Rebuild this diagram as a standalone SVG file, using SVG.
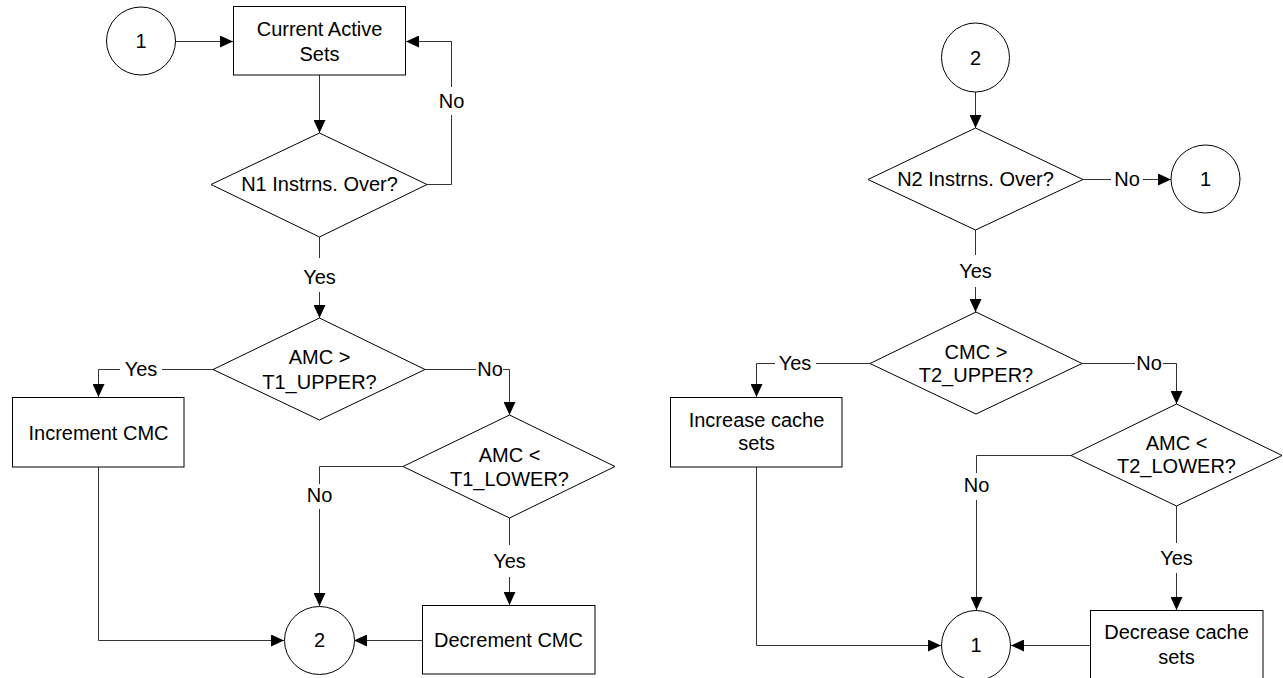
<svg xmlns="http://www.w3.org/2000/svg" width="1283" height="678" viewBox="0 0 1283 678">
<style>
.s{fill:#fff;stroke:#000;stroke-width:1}
.c{fill:none;stroke:#333;stroke-width:1}
.ca{fill:none;stroke:#333;stroke-width:1;marker-end:url(#ah)}
text{font-family:"Liberation Sans",Arial,sans-serif;font-size:20px;fill:#000;text-anchor:middle}
</style>
<defs>
<marker id="ah" markerUnits="userSpaceOnUse" markerWidth="13" markerHeight="12" refX="13" refY="6" orient="auto">
<path d="M0,0 L13,6 L0,12 z" fill="#000"/>
</marker>
</defs>
<rect width="1283" height="678" fill="#fff"/>

<g id="connectors">
<!-- left flow -->
<path class="ca" d="M176,41.5 H233"/>
<path class="ca" d="M319.5,75 V133"/>
<path class="c" d="M427,184.5 H451.5 V115"/>
<path class="ca" d="M451.5,87 V41.5 H406"/>
<path class="c" d="M319.5,237 V258"/>
<path class="ca" d="M319.5,292 V318"/>
<path class="c" d="M213,369.5 H162"/>
<path class="ca" d="M120,369.5 H98.5 V397"/>
<path class="c" d="M425,369.5 H476"/>
<path class="ca" d="M503,369.5 H509.5 V415"/>
<path class="c" d="M403,466.5 H319.5 V484"/>
<path class="ca" d="M319.5,509 V606"/>
<path class="c" d="M509.5,518 V545"/>
<path class="ca" d="M509.5,577 V605"/>
<path class="ca" d="M98.5,467 V640.5 H284"/>
<path class="ca" d="M422,640.5 H354"/>
<!-- right flow -->
<path class="ca" d="M975.5,92 V128"/>
<path class="c" d="M1083,179.5 H1111"/>
<path class="ca" d="M1143,179.5 H1171"/>
<path class="c" d="M975.5,230 V255"/>
<path class="ca" d="M975.5,287 V312"/>
<path class="c" d="M870,363.5 H816"/>
<path class="ca" d="M775,363.5 H756.5 V397"/>
<path class="c" d="M1082,363.5 H1135"/>
<path class="ca" d="M1163,363.5 H1176.5 V404"/>
<path class="c" d="M1071,455.5 H976.5 V473"/>
<path class="ca" d="M976.5,500 V610"/>
<path class="c" d="M1176.5,506 V543"/>
<path class="ca" d="M1176.5,573 V610"/>
<path class="ca" d="M756.5,467 V645.5 H941"/>
<path class="ca" d="M1090,645.5 H1011"/>
</g>

<g id="labels">
<text x="451.5" y="108">No</text>
<text x="319.5" y="284">Yes</text>
<text x="141" y="376">Yes</text>
<text x="490" y="376">No</text>
<text x="319.5" y="502">No</text>
<text x="509.5" y="568">Yes</text>
<text x="1127" y="186">No</text>
<text x="975.5" y="278">Yes</text>
<text x="795" y="370">Yes</text>
<text x="1149" y="370">No</text>
<text x="976.5" y="492">No</text>
<text x="1176.5" y="565">Yes</text>
</g>

<g id="c1a">
<ellipse class="s" cx="141" cy="41" rx="34.5" ry="34"/>
<text x="141" y="48">1</text>
</g>
<g id="current-active-sets">
<rect class="s" x="233.5" y="6.5" width="172" height="68.5"/>
<text x="319.5" y="36">Current Active</text>
<text x="319.5" y="61">Sets</text>
</g>
<g id="n1-over">
<polygon class="s" points="319.5,133 427,184.5 319.5,237 211,184.5"/>
<text x="319.5" y="191">N1 Instrns. Over?</text>
</g>
<g id="amc-t1-upper">
<polygon class="s" points="319.5,318 425,369.5 319.5,420 213,369.5"/>
<text x="319.5" y="364">AMC &gt;</text>
<text x="319.5" y="389">T1_UPPER?</text>
</g>
<g id="increment-cmc">
<rect class="s" x="12.5" y="397.5" width="171.5" height="69.5"/>
<text x="98.5" y="440">Increment CMC</text>
</g>
<g id="amc-t1-lower">
<polygon class="s" points="509.5,415 615,466.5 509.5,518 403,466.5"/>
<text x="509.5" y="462">AMC &lt;</text>
<text x="509.5" y="486">T1_LOWER?</text>
</g>
<g id="decrement-cmc">
<rect class="s" x="422.5" y="605.5" width="172.5" height="68.5"/>
<text x="508.5" y="647">Decrement CMC</text>
</g>
<g id="c2a">
<ellipse class="s" cx="319.5" cy="640.5" rx="35" ry="34"/>
<text x="319.5" y="647">2</text>
</g>

<g id="c2b">
<ellipse class="s" cx="975.5" cy="57.5" rx="34" ry="34.5"/>
<text x="975.5" y="65">2</text>
</g>
<g id="n2-over">
<polygon class="s" points="975.5,128 1083,179.5 975.5,230 868,179.5"/>
<text x="975.5" y="186">N2 Instrns. Over?</text>
</g>
<g id="c1b">
<ellipse class="s" cx="1205.5" cy="179" rx="34.5" ry="34"/>
<text x="1205.5" y="186">1</text>
</g>
<g id="cmc-t2-upper">
<polygon class="s" points="976,312 1082,363.5 976,414 870,363.5"/>
<text x="976" y="359">CMC &gt;</text>
<text x="976" y="382">T2_UPPER?</text>
</g>
<g id="increase-cache-sets">
<rect class="s" x="670.5" y="397.5" width="171.5" height="69.5"/>
<text x="756.5" y="427">Increase cache</text>
<text x="756.5" y="450">sets</text>
</g>
<g id="amc-t2-lower">
<polygon class="s" points="1176.5,404 1282,455.5 1176.5,506 1071,455.5"/>
<text x="1176.5" y="450">AMC &lt;</text>
<text x="1176.5" y="473">T2_LOWER?</text>
</g>
<g id="decrease-cache-sets">
<rect class="s" x="1090.5" y="610.5" width="172.5" height="70"/>
<text x="1176.5" y="639">Decrease cache</text>
<text x="1176.5" y="664">sets</text>
</g>
<g id="c1c">
<ellipse class="s" cx="976" cy="645.5" rx="34.5" ry="35"/>
<text x="976" y="652">1</text>
</g>
</svg>
